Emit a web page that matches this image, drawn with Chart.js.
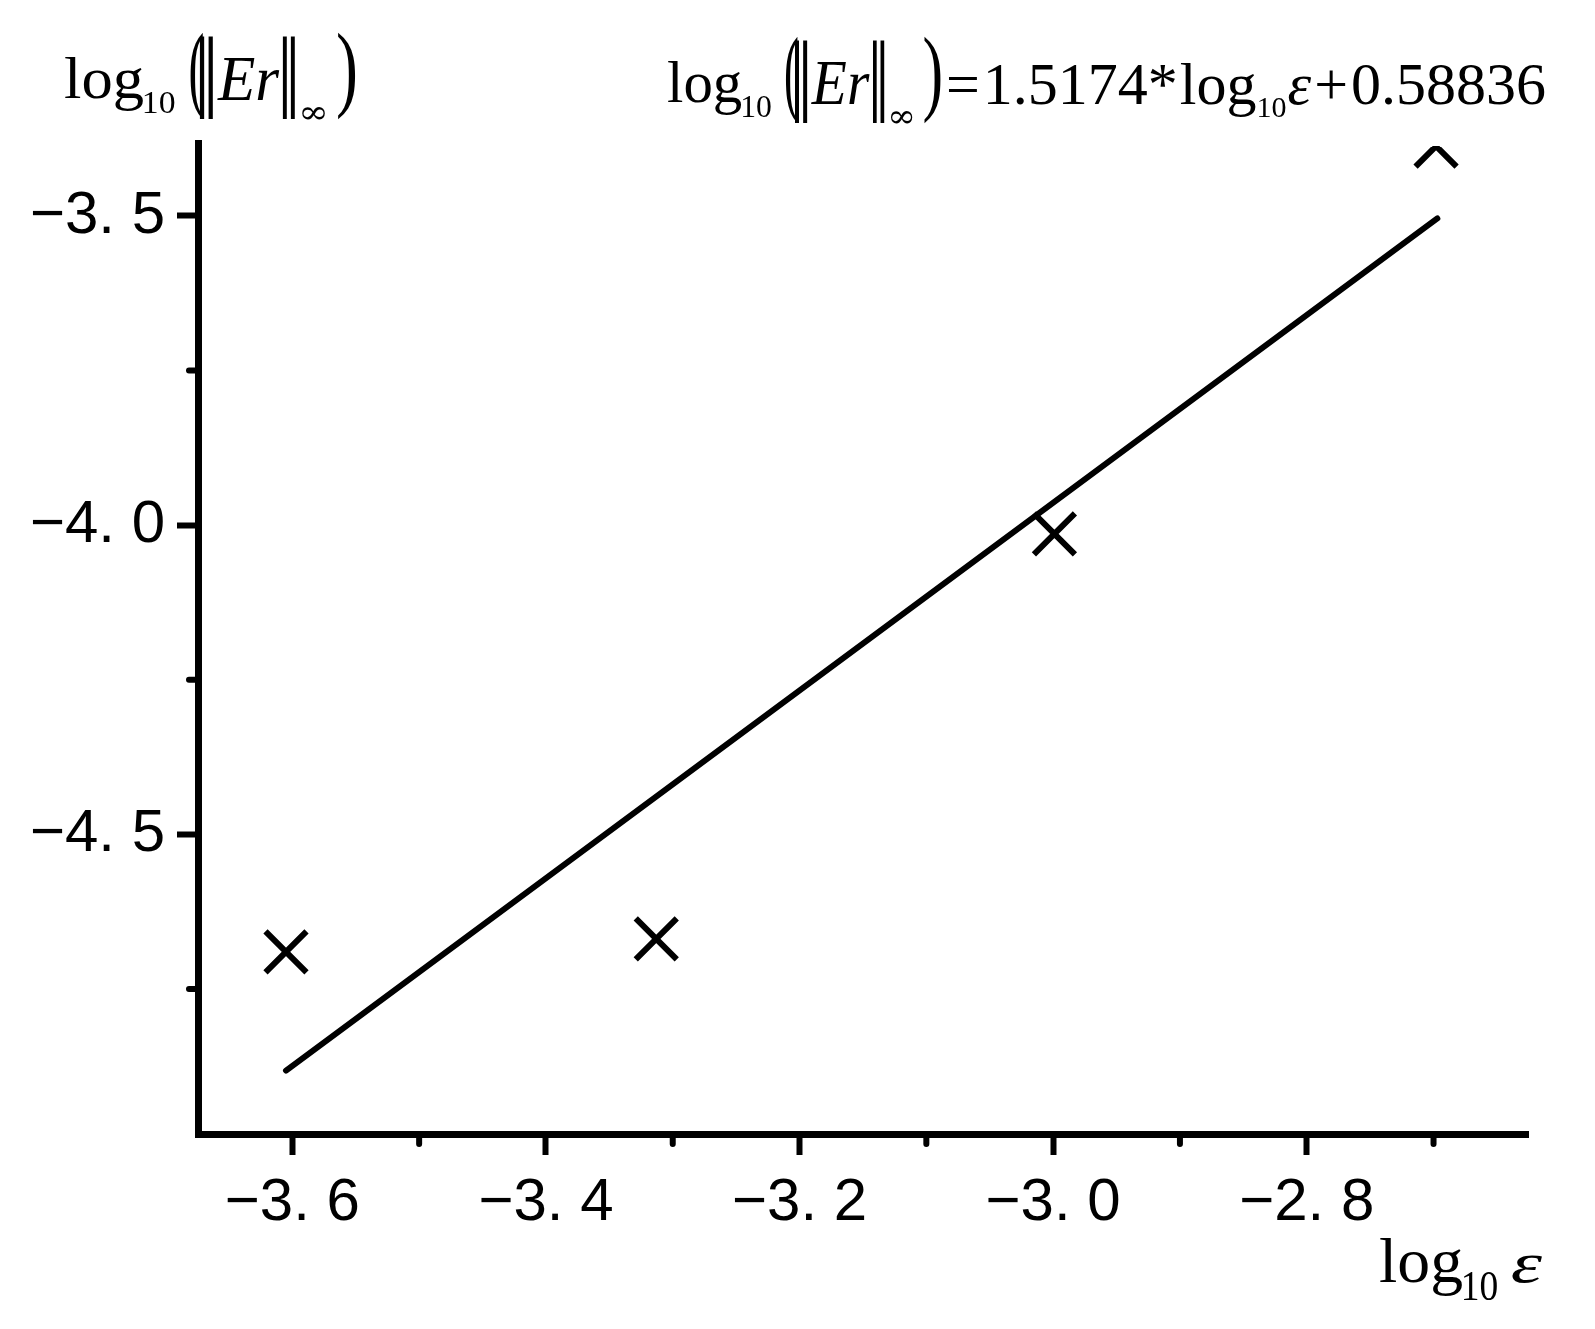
<!DOCTYPE html>
<html>
<head>
<meta charset="utf-8">
<script src="https://cdn.jsdelivr.net/npm/chart.js@4.4.0/dist/chart.umd.min.js"></script>
<style>
html,body{margin:0;padding:0;background:#fff;}
canvas{display:block;}
</style>
</head>
<body>
<canvas id="c" width="1595" height="1329"></canvas>
<script>
// ---- data ----
const logEps = [-3.605, -3.313, -2.999, -2.698];
const logErr = [-4.690, -4.669, -4.014, -3.387];
const fitX = [-3.605, -2.697];
const fitY = [-4.882, -3.504];
const xTickValues = [-3.6, -3.4, -3.2, -3.0, -2.8];
const xTickLabels = ['\u22123. 6', '\u22123. 4', '\u22123. 2', '\u22123. 0', '\u22122. 8'];
const xMinorTicks = [-3.5, -3.3, -3.1, -2.9, -2.7];
const yTickValues = [-3.5, -4.0, -4.5];
const yTickLabels = ['\u22123. 5', '\u22124. 0', '\u22124. 5'];
const yMinorTicks = [-3.75, -4.25, -4.75];
const xMin = -3.6744, xMax = -2.6255;
const yMin = -4.9846, yMax = -3.382;

const SERIF = '"Liberation Serif", "Times New Roman", serif';
const DSERIF = '"DejaVu Serif", "Liberation Serif", serif';

function inkBox(ctx, text, font, l, t, r, b) {
  ctx.save();
  ctx.font = font;
  ctx.textBaseline = 'alphabetic';
  ctx.textAlign = 'left';
  ctx.fillStyle = '#000';
  const m = ctx.measureText(text);
  const iw = m.actualBoundingBoxLeft + m.actualBoundingBoxRight;
  const ih = m.actualBoundingBoxAscent + m.actualBoundingBoxDescent;
  ctx.translate(l, t);
  ctx.scale((r - l) / iw, (b - t) / ih);
  ctx.fillText(text, m.actualBoundingBoxLeft, m.actualBoundingBoxAscent);
  ctx.restore();
}
function seq(ctx, x, base, runs) {
  ctx.save();
  ctx.textBaseline = 'alphabetic';
  ctx.textAlign = 'left';
  ctx.fillStyle = '#000';
  for (const r of runs) {
    ctx.font = r.f;
    x += (r.gap || 0);
    ctx.fillText(r.t, x, base + (r.dy || 0));
    x += ctx.measureText(r.t).width;
  }
  ctx.restore();
}
function normLabel(ctx, ox, oy, s) {
  const o = v => ox + (v - 65) * s;
  const oy2 = v => v + oy;
  inkBox(ctx, 'log', '62px ' + SERIF, o(65), oy2(57), o(143), oy2(110));
  inkBox(ctx, '10', '31px ' + SERIF, o(144), oy2(92), o(175), oy2(113));
  inkBox(ctx, '(', '62px ' + SERIF, o(190), oy2(33), o(203), oy2(120));
  inkBox(ctx, '\u2016', '62px ' + DSERIF, o(200), oy2(38), o(213), oy2(120));
  inkBox(ctx, 'Er', 'italic 62px ' + SERIF, o(217), oy2(58), o(280), oy2(99.5));
  inkBox(ctx, '\u2016', '62px ' + DSERIF, o(283), oy2(38), o(295), oy2(120));
  inkBox(ctx, '\u221E', '30px ' + DSERIF, o(302), oy2(107), o(325), oy2(120));
  inkBox(ctx, ')', '62px ' + SERIF, o(338), oy2(33), o(355), oy2(120));
}

const textPlugin = {
  id: 'mathText',
  afterDraw(chart) {
    const ctx = chart.ctx;
    // y axis title (top-left)
    normLabel(ctx, 65, 0, 1);
    // fitted equation (top-right)
    normLabel(ctx, 668, 4, 0.94);
    seq(ctx, 946, 104, [
      {t: '=', f: '60px ' + SERIF},
      {t: '1.5174*', f: '60px ' + SERIF, gap: 3},
      {t: 'log', f: '60px ' + SERIF, gap: 2},
      {t: '10', f: '30px ' + SERIF, dy: 13},
      {t: '\u03B5', f: 'italic 60px ' + SERIF, gap: 1},
      {t: '+', f: '60px ' + SERIF, gap: 3},
      {t: '0.58836', f: '60px ' + SERIF, gap: 3}
    ]);
    // x axis title (bottom-right)
    inkBox(ctx, 'log', '64px ' + SERIF, 1380, 1238, 1462, 1296);
    inkBox(ctx, '10', '32px ' + SERIF, 1463, 1272, 1497, 1300);
    inkBox(ctx, '\u03B5', 'italic 64px ' + SERIF, 1512, 1255, 1543, 1283);
  }
};

const minorTickPlugin = {
  id: 'minorTicks',
  afterDraw(chart) {
    const ctx = chart.ctx, ca = chart.chartArea;
    const xs = chart.scales.x, ys = chart.scales.y;
    ctx.save();
    ctx.strokeStyle = '#000';
    ctx.lineWidth = 6;
    ctx.lineCap = 'round';
    ctx.beginPath();
    for (const v of xMinorTicks) {
      const px = xs.getPixelForValue(v);
      ctx.moveTo(px, ca.bottom + 2);
      ctx.lineTo(px, ca.bottom + 10);
    }
    for (const v of yMinorTicks) {
      const py = ys.getPixelForValue(v);
      ctx.moveTo(ca.left - 2, py);
      ctx.lineTo(ca.left - 9, py);
    }
    ctx.stroke();
    ctx.restore();
  }
};

const tickFont = {family: '"Liberation Sans", Arial, sans-serif', size: 60};

new Chart(document.getElementById('c'), {
  type: 'scatter',
  data: {
    datasets: [
      {
        label: 'fit',
        data: fitX.map((x, i) => ({x: x, y: fitY[i]})),
        showLine: true,
        borderColor: '#000',
        borderWidth: 6,
        borderCapStyle: 'round',
        pointRadius: 0,
        clip: false
      },
      {
        label: 'error',
        data: logEps.map((x, i) => ({x: x, y: logErr[i]})),
        showLine: false,
        pointStyle: 'crossRot',
        pointRadius: 29,
        pointBorderWidth: 6,
        pointBorderColor: '#000',
        pointBackgroundColor: 'rgba(0,0,0,0)',
        clip: {left: 60, top: -3, right: 60, bottom: 60}
      }
    ]
  },
  options: {
    responsive: false,
    animation: false,
    events: [],
    devicePixelRatio: 1,
    layout: {padding: {left: 0, top: 143, right: 67, bottom: 0}},
    plugins: {legend: {display: false}, tooltip: {enabled: false}, title: {display: false}},
    scales: {
      x: {
        type: 'linear',
        min: xMin, max: xMax,
        afterBuildTicks: s => { s.ticks = xTickValues.map(v => ({value: v})); },
        afterFit: s => { s.height = 195; },
        ticks: {
          autoSkip: false, maxRotation: 0, minRotation: 0, padding: 12,
          color: '#000', font: tickFont,
          callback: (v, i) => xTickLabels[i]
        },
        grid: {drawOnChartArea: false, drawTicks: true, tickLength: 21, tickWidth: 6, tickColor: '#000', color: '#000'},
        border: {display: true, color: '#000', width: 7}
      },
      y: {
        type: 'linear',
        min: yMin, max: yMax,
        afterBuildTicks: s => { s.ticks = yTickValues.map(v => ({value: v})); },
        afterFit: s => { s.width = 198; },
        ticks: {
          autoSkip: false, padding: 12,
          color: '#000', font: tickFont,
          callback: (v, i) => yTickLabels[i]
        },
        grid: {drawOnChartArea: false, drawTicks: true, tickLength: 21, tickWidth: 6, tickColor: '#000', color: '#000'},
        border: {display: true, color: '#000', width: 7}
      }
    }
  },
  plugins: [minorTickPlugin, textPlugin]
});
</script>
</body>
</html>
